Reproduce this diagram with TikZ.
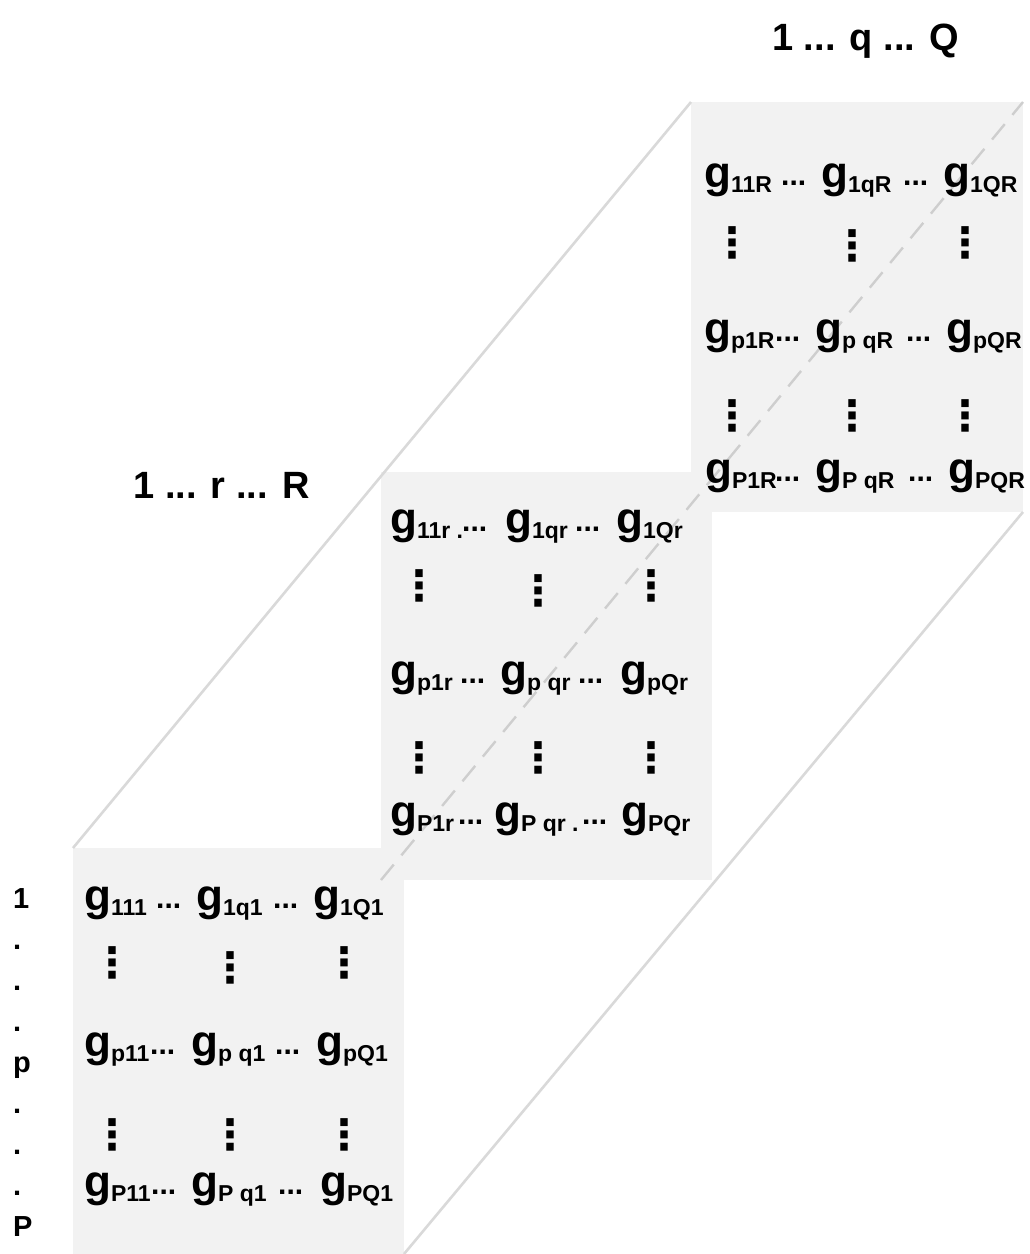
\documentclass[tikz,border=0pt]{standalone}
\usepackage{fontspec}
\setmainfont{Liberation Sans}
\newfontfamily\symfont{DejaVu Sans}
\definecolor{slicefill}{HTML}{F2F2F2}
\definecolor{edgegray}{HTML}{D9D9D9}
\definecolor{dashgray}{HTML}{CECECE}
% one tensor element: g with a lowered index
\newcommand\gx[1]{{\fontsize{44}{44}\selectfont g}\raisebox{-5pt}{\fontsize{23}{23}\selectfont #1}}
\begin{document}
\begin{tikzpicture}[x=1pt,y=-1pt,
  slice/.style={fill=slicefill, anchor=north west, inner sep=0pt, outer sep=0pt},
  edge/.style={draw=edgegray, line width=2.6pt},
  hidden/.style={draw=dashgray, line width=2.4pt, dash pattern=on 20pt off 12pt},
  entry/.style={anchor=base west, inner sep=0pt, font=\bfseries},
  hdots/.style={anchor=base west, inner sep=0pt, font=\bfseries\fontsize{30}{30}\selectfont},
  vdots/.style={anchor=base, inner sep=0pt, font=\symfont\bfseries\fontsize{42}{42}\selectfont},
  axislabel/.style={anchor=base, inner sep=0pt, font=\bfseries\fontsize{38}{38}\selectfont},
  rowlabel/.style={anchor=base west, inner sep=0pt, font=\bfseries\fontsize{29}{29}\selectfont}]
\useasboundingbox (0,0) rectangle (1029,1254);

% the three frontal slices, back to front
\node[slice, minimum width=332pt, minimum height=410pt] (s3) at (691,102) {};
\node[slice, minimum width=331pt, minimum height=408pt] (s2) at (381,472) {};
\node[slice, minimum width=331pt, minimum height=406pt] (s1) at (73,848) {};

% edges of the stack
\draw[edge] (s1.north west) -- (s3.north west);
\draw[edge] (s1.south east) -- (s3.south east);
\draw[hidden] (s2.south west) -- (s3.north east);

% axis labels
\node[axislabel] (qlab) at (865.5,50) {1 ... q ... Q};
\node[axislabel] (rlab) at (221.5,498) {1 ... r ... R};
\foreach \t [count=\i] in {1,.,.,.,p,.,.,.,P}
  \node[rowlabel] (pl\i) at ({13},{908+41.1*(\i-1)}) {\t};

% slice R
\foreach \x/\t [count=\i] in {704/11R, 821/1qR, 943/1QR}
  \node[entry] (s3a\i) at (\x,187) {\gx{\t}};
\foreach \x [count=\i] in {781,903}
  \node[hdots] (s3ad\i) at (\x,185) {...};
\foreach \x/\y [count=\i] in {732/257, 852/260, 965/257}
  \node[vdots] (s3av\i) at (\x,\y) {⋮};
\foreach \x/\t [count=\i] in {704/p1R, 815/p qR, 946/pQR}
  \node[entry] (s3b\i) at (\x,343) {\gx{\t}};
\foreach \x [count=\i] in {775,906}
  \node[hdots] (s3bd\i) at (\x,341) {...};
\foreach \x/\y [count=\i] in {732/430, 852/430, 965/430}
  \node[vdots] (s3bv\i) at (\x,\y) {⋮};
\foreach \x/\t [count=\i] in {705/P1R, 815/P qR, 948/PQR}
  \node[entry] (s3c\i) at (\x,483) {\gx{\t}};
\foreach \x [count=\i] in {775,908}
  \node[hdots] (s3cd\i) at (\x,481) {...};

% slice r
\foreach \x/\t [count=\i] in {390/11r ., 505/1qr, 616/1Qr}
  \node[entry] (s2a\i) at (\x,533) {\gx{\t}};
\foreach \x [count=\i] in {462,575}
  \node[hdots] (s2ad\i) at (\x,531) {...};
\foreach \x/\y [count=\i] in {419/600, 538/605, 651/600}
  \node[vdots] (s2av\i) at (\x,\y) {⋮};
\foreach \x/\t [count=\i] in {390/p1r, 500/p qr, 620/pQr}
  \node[entry] (s2b\i) at (\x,685) {\gx{\t}};
\foreach \x [count=\i] in {460,578}
  \node[hdots] (s2bd\i) at (\x,683) {...};
\foreach \x/\y [count=\i] in {419/772, 538/772, 651/772}
  \node[vdots] (s2bv\i) at (\x,\y) {⋮};
\foreach \x/\t [count=\i] in {390/P1r, 494/P qr ., 621/PQr}
  \node[entry] (s2c\i) at (\x,826) {\gx{\t}};
\foreach \x [count=\i] in {458,582}
  \node[hdots] (s2cd\i) at (\x,824) {...};

% slice 1
\foreach \x/\t [count=\i] in {84/111, 196/1q1, 313/1Q1}
  \node[entry] (s1a\i) at (\x,910) {\gx{\t}};
\foreach \x [count=\i] in {156,273}
  \node[hdots] (s1ad\i) at (\x,908) {...};
\foreach \x/\y [count=\i] in {112/977, 230/982, 344/977}
  \node[vdots] (s1av\i) at (\x,\y) {⋮};
\foreach \x/\t [count=\i] in {84/p11, 191/p q1, 316/pQ1}
  \node[entry] (s1b\i) at (\x,1056) {\gx{\t}};
\foreach \x [count=\i] in {150,275}
  \node[hdots] (s1bd\i) at (\x,1054) {...};
\foreach \x/\y [count=\i] in {112/1149, 230/1149, 344/1149}
  \node[vdots] (s1bv\i) at (\x,\y) {⋮};
\foreach \x/\t [count=\i] in {84/P11, 191/P q1, 320/PQ1}
  \node[entry] (s1c\i) at (\x,1196) {\gx{\t}};
\foreach \x [count=\i] in {151,278}
  \node[hdots] (s1cd\i) at (\x,1194) {...};
\end{tikzpicture}
\end{document}
